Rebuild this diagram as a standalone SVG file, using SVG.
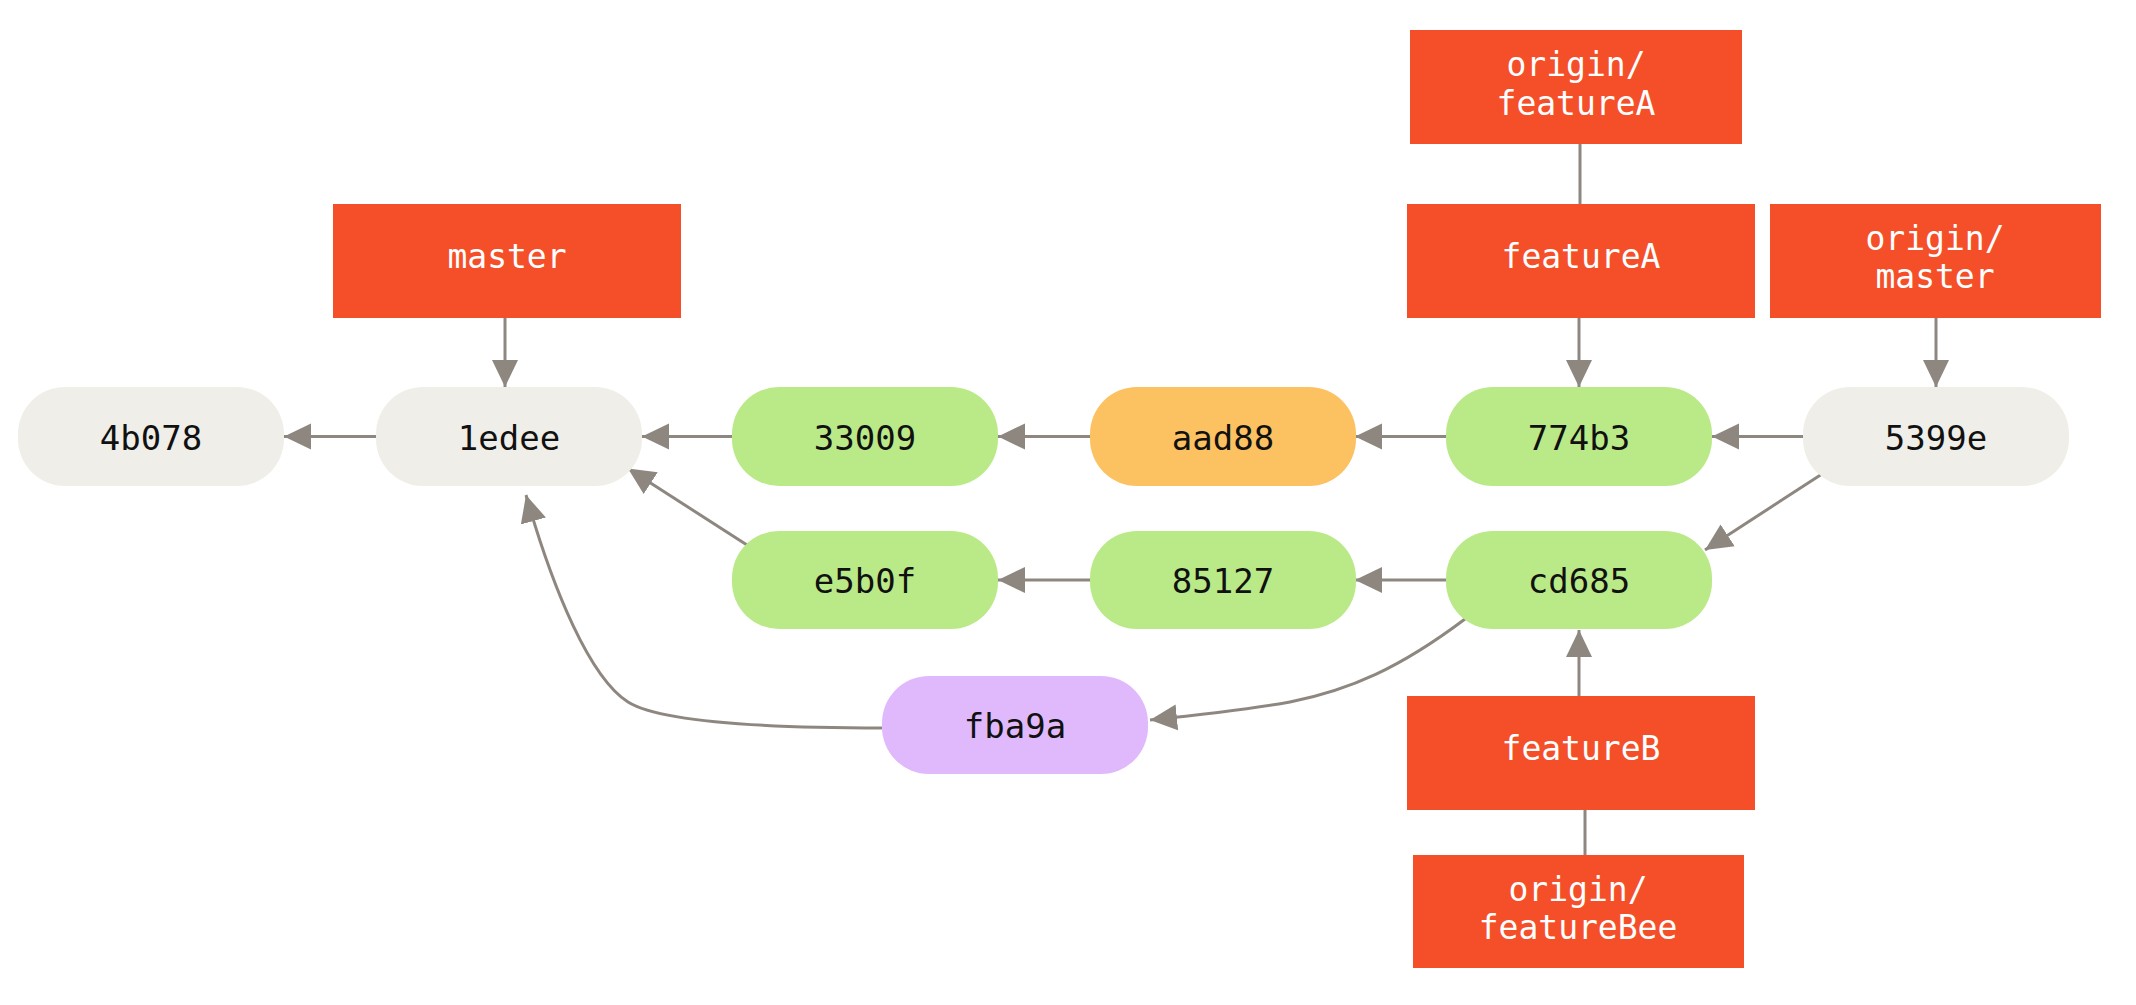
<svg xmlns="http://www.w3.org/2000/svg" width="2136" height="1005" viewBox="0 0 2136 1005">
<style>
.bg{fill:#ffffff}
.ref rect{fill:#F54F2A}
.ref text{fill:#ffffff;font-family:"DejaVu Sans Mono","Liberation Mono",monospace;font-size:33px;text-anchor:middle}
.commit text{fill:#111111;font-family:"DejaVu Sans Mono","Liberation Mono",monospace;font-size:34px;text-anchor:middle}
.grey rect{fill:#EFEEE8}
.green rect{fill:#BAE988}
.orange rect{fill:#FCC161}
.purple rect{fill:#E0B9FC}
#connectors path{fill:none;stroke:#8E8780;stroke-width:3}
</style>
<defs>
<marker id="arr" viewBox="0 0 28 28" refX="27" refY="14" markerWidth="28" markerHeight="28" markerUnits="userSpaceOnUse" orient="auto">
<path d="M0 1 L27 14 L0 27 Z" fill="#8E8780"/>
</marker>
</defs>
<rect class="bg" x="0" y="0" width="2136" height="1005"/>

<g id="connectors">
<path d="M505 318 V387" marker-end="url(#arr)"/>
<path d="M1579 318 V387" marker-end="url(#arr)"/>
<path d="M1936 318 V387" marker-end="url(#arr)"/>
<path d="M1580 144 V204"/>
<path d="M1579 696 V630" marker-end="url(#arr)"/>
<path d="M1585 810 V855"/>
<path d="M376 436.5 H284" marker-end="url(#arr)"/>
<path d="M732 436.5 H642" marker-end="url(#arr)"/>
<path d="M1090 436.5 H998" marker-end="url(#arr)"/>
<path d="M1446 436.5 H1355" marker-end="url(#arr)"/>
<path d="M1803 436.5 H1712" marker-end="url(#arr)"/>
<path d="M1090 580 H998" marker-end="url(#arr)"/>
<path d="M1446 580 H1355" marker-end="url(#arr)"/>
<path d="M747 545 L628 468.5" marker-end="url(#arr)"/>
<path d="M1822 474 L1705 550" marker-end="url(#arr)"/>
<path d="M1465 619 C1400 668 1350 690 1290 702 C1240 711 1190 716 1150 720" marker-end="url(#arr)"/>
<path d="M882 728 C760 728 660 722 628 702 C590 678 553 590 526 495" marker-end="url(#arr)"/>
</g>

<g id="c4b078" class="commit grey"><rect x="18" y="387" width="266" height="99" rx="47"/><text x="151" y="450">4b078</text></g>
<g id="c1edee" class="commit grey"><rect x="376" y="387" width="266" height="99" rx="47"/><text x="509" y="450">1edee</text></g>
<g id="c33009" class="commit green"><rect x="732" y="387" width="266" height="99" rx="47"/><text x="865" y="450">33009</text></g>
<g id="caad88" class="commit orange"><rect x="1090" y="387" width="266" height="99" rx="47"/><text x="1223" y="450">aad88</text></g>
<g id="c774b3" class="commit green"><rect x="1446" y="387" width="266" height="99" rx="47"/><text x="1579" y="450">774b3</text></g>
<g id="c5399e" class="commit grey"><rect x="1803" y="387" width="266" height="99" rx="47"/><text x="1936" y="450">5399e</text></g>
<g id="ce5b0f" class="commit green"><rect x="732" y="531" width="266" height="98" rx="47"/><text x="865" y="593">e5b0f</text></g>
<g id="c85127" class="commit green"><rect x="1090" y="531" width="266" height="98" rx="47"/><text x="1223" y="593">85127</text></g>
<g id="ccd685" class="commit green"><rect x="1446" y="531" width="266" height="98" rx="47"/><text x="1579" y="593">cd685</text></g>
<g id="cfba9a" class="commit purple"><rect x="882" y="676" width="266" height="98" rx="47"/><text x="1015" y="738">fba9a</text></g>

<g id="master" class="ref"><rect x="333" y="204" width="348" height="114"/><text x="507" y="268">master</text></g>
<g id="origin-featureA" class="ref"><rect x="1410" y="30" width="332" height="114"/><text x="1576" y="76">origin/</text><text x="1576" y="115">featureA</text></g>
<g id="featureA" class="ref"><rect x="1407" y="204" width="348" height="114"/><text x="1581" y="268">featureA</text></g>
<g id="origin-master" class="ref"><rect x="1770" y="204" width="331" height="114"/><text x="1935" y="250">origin/</text><text x="1935" y="288">master</text></g>
<g id="featureB" class="ref"><rect x="1407" y="696" width="348" height="114"/><text x="1581" y="760">featureB</text></g>
<g id="origin-featureBee" class="ref"><rect x="1413" y="855" width="331" height="113"/><text x="1578" y="901">origin/</text><text x="1578" y="939">featureBee</text></g>
</svg>
